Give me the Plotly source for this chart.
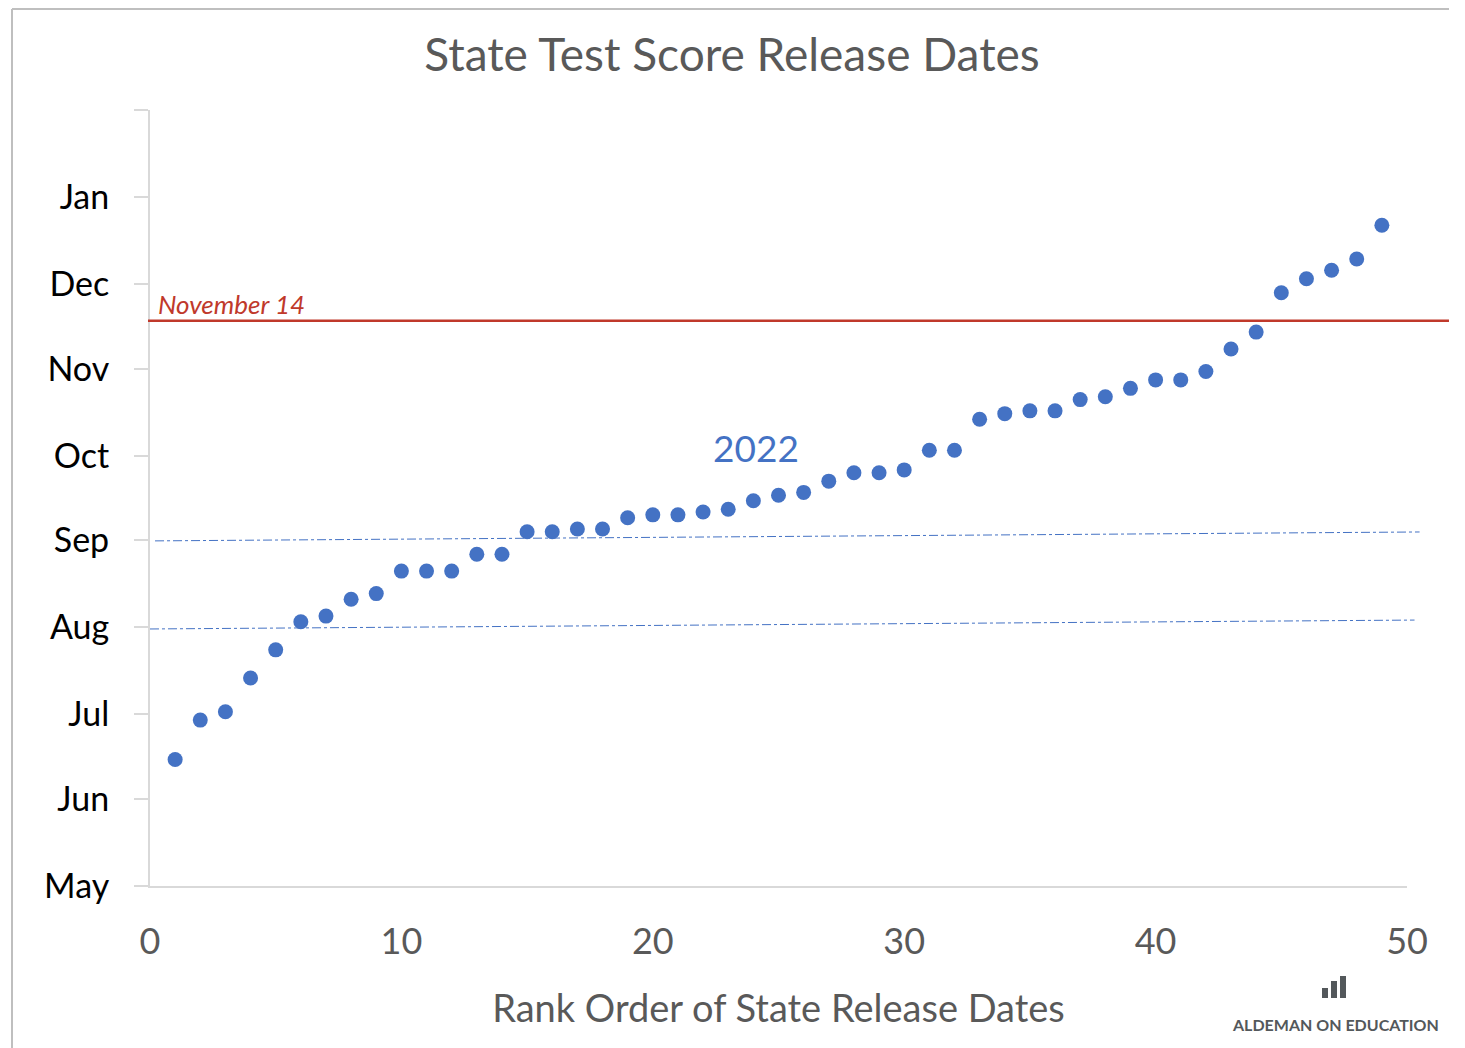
import plotly.graph_objects as go

# rank of each state and its score release date (2022 cycle)
ranks = list(range(1, 50))
release_dates = [
    "2022-06-15", "2022-06-29", "2022-07-02", "2022-07-14", "2022-07-24",
    "2022-08-03", "2022-08-05", "2022-08-11", "2022-08-13", "2022-08-21",
    "2022-08-21", "2022-08-21", "2022-08-27", "2022-08-27", "2022-09-04",
    "2022-09-04", "2022-09-05", "2022-09-05", "2022-09-09", "2022-09-10",
    "2022-09-10", "2022-09-11", "2022-09-12", "2022-09-15", "2022-09-17",
    "2022-09-18", "2022-09-22", "2022-09-25", "2022-09-25", "2022-09-26",
    "2022-10-03", "2022-10-03", "2022-10-14", "2022-10-16", "2022-10-17",
    "2022-10-17", "2022-10-21", "2022-10-22", "2022-10-25", "2022-10-28",
    "2022-10-28", "2022-10-31", "2022-11-08", "2022-11-14", "2022-11-28",
    "2022-12-03", "2022-12-06", "2022-12-10", "2022-12-22",
]

month_ticks = ["2022-05-01", "2022-06-01", "2022-07-01", "2022-08-01", "2022-09-01",
               "2022-10-01", "2022-11-01", "2022-12-01", "2023-01-01", "2023-02-01"]
month_labels = ["May", "Jun", "Jul", "Aug", "Sep", "Oct", "Nov", "Dec", "Jan", ""]

# reference lines
deadline_label = "November 14"
deadline_date = "2022-11-18"
deadline_x = [-0.08, 51.67]
sep_band_x = [0.2, 50.5]
sep_band_y = ["2022-08-31 18:00", "2022-09-03 22:00"]
aug_band_x = [0.0, 50.3]
aug_band_y = ["2022-07-31 10:00", "2022-08-03 14:00"]

X_MAX = 50

BLUE = "#4472C4"
RED = "#C0392B"
GREY = "#595959"
FONT = "Lato, 'Open Sans', sans-serif"

# page body adds an 8px offset, so the figure is smaller and shifted
OFF = 8
W, H = 1465 - OFF, 1048 - OFF
L, R, T, B = 150 - OFF, 1407 - OFF, 110 - OFF, 886 - OFF


def px(x, y):
    # screenshot pixel position -> paper coordinates (for decorations only)
    return (x - OFF - L) / (R - L), (B - (y - OFF)) / (B - T)


fig = go.Figure()

fig.add_trace(go.Scatter(
    x=ranks, y=release_dates, mode="markers",
    marker=dict(size=15, color=BLUE),
    showlegend=False,
))

# dash-dot guide lines around Aug / Sep (run a bit past the plot edge)
for xs, ys in [(sep_band_x, sep_band_y), (aug_band_x, aug_band_y)]:
    fig.add_shape(type="line", xref="paper", yref="y",
                  x0=xs[0] / X_MAX, x1=xs[1] / X_MAX, y0=ys[0], y1=ys[1],
                  line=dict(color=BLUE, width=1, dash="dashdot"))

# deadline line (runs past the plot's right edge)
fig.add_shape(type="line", xref="paper", yref="y",
              x0=deadline_x[0] / X_MAX, x1=deadline_x[1] / X_MAX,
              y0=deadline_date, y1=deadline_date,
              line=dict(color=RED, width=2.5))
fig.add_annotation(x=0.25, y=deadline_date, xref="x", yref="y", text=deadline_label,
                   showarrow=False, xanchor="left", yanchor="bottom", yshift=-1,
                   font=dict(family=FONT, size=26, color=RED, style="italic"))

fig.add_annotation(x=24.1, y="2022-10-04", xref="x", yref="y", text="2022",
                   showarrow=False, font=dict(family=FONT, size=37, color=BLUE))

# outer frame (top and left edges)
x0, y0 = px(12, 9)
x1, y1 = px(1449, 1048)
fig.add_shape(type="line", xref="paper", yref="paper", x0=x0, x1=x1, y0=y0, y1=y0,
              line=dict(color="#BFBFBF", width=2))
fig.add_shape(type="line", xref="paper", yref="paper", x0=x0, x1=x0, y0=y0, y1=y1,
              line=dict(color="#BFBFBF", width=2))

# logo
for bx0, by0, bx1 in [(1322, 988, 1328), (1331, 981, 1337), (1340, 976, 1346)]:
    a, b = px(bx0, by0)
    c, d = px(bx1, 998)
    fig.add_shape(type="rect", xref="paper", yref="paper", x0=a, x1=c, y0=d, y1=b,
                  line=dict(width=0), fillcolor="#53585B")
lx, ly = px(1335, 1024)
fig.add_annotation(x=lx, y=ly, xref="paper", yref="paper", text="ALDEMAN ON EDUCATION",
                   showarrow=False, xanchor="center", yanchor="middle",
                   font=dict(family=FONT, size=16, color="#53585B", weight="bold"))

fig.update_layout(
    width=W, height=H,
    margin=dict(l=L, r=W - R, t=T, b=H - B),
    paper_bgcolor="white", plot_bgcolor="white",
    title=dict(text="State Test Score Release Dates", x=(732 - OFF) / W, xref="container",
               xanchor="center", y=1 - (55 - OFF) / H, yanchor="middle",
               font=dict(family=FONT, size=46, color=GREY)),
    xaxis=dict(
        range=[0, X_MAX], tickvals=[0, 10, 20, 30, 40, 50],
        showgrid=False, zeroline=False,
        showline=True, linecolor="#D9D9D9", linewidth=2,
        ticks="", ticklabelstandoff=23,
        tickfont=dict(family=FONT, size=36, color=GREY),
        title=dict(text="Rank Order of State Release Dates", standoff=34,
                   font=dict(family=FONT, size=38, color=GREY)),
    ),
    yaxis=dict(
        type="date", range=["2022-05-01", "2023-02-01"],
        tickvals=month_ticks, ticktext=month_labels,
        showgrid=False, zeroline=False,
        showline=True, linecolor="#D9D9D9", linewidth=2,
        ticks="outside", ticklen=14, tickcolor="#D9D9D9", tickwidth=2,
        ticklabelstandoff=18,
        tickfont=dict(family=FONT, size=34, color="black"),
    ),
)

fig.write_html("out.html")
